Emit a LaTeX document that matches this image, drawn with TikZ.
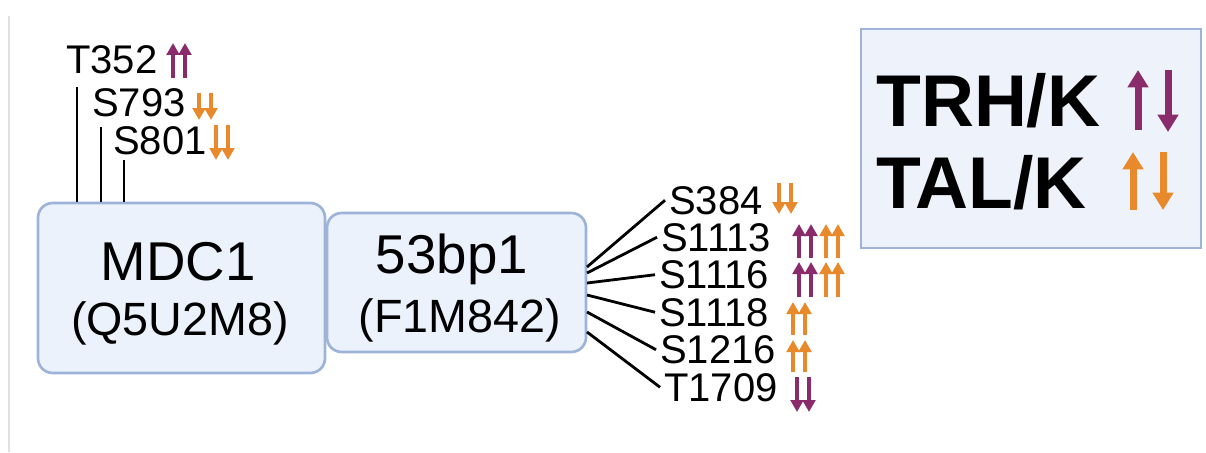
\documentclass[tikz,border=0pt]{standalone}
\usepackage{fontspec}
\setmainfont{Liberation Sans}
\usetikzlibrary{arrows.meta}
\definecolor{boxfill}{HTML}{EBF2FB}
\definecolor{boxline}{HTML}{9DB3D8}
\definecolor{legfill}{HTML}{EEF3FB}
\definecolor{purp}{HTML}{8A2C6C}
\definecolor{orng}{HTML}{E8892B}
\tikzset{pairarr/.style={line width=3.4pt, -{Triangle[width=9.5pt,length=9pt]}}}
\newcommand\arrpair[5]{% colour, centre x, y top, y bottom, up/down
  \ifx#5u
    \draw[#1, pairarr] ({#2-6},#4) -- ({#2-6},#3);
    \draw[#1, pairarr] ({#2+6},#4) -- ({#2+6},#3);
  \else
    \draw[#1, pairarr] ({#2-6},#3) -- ({#2-6},#4);
    \draw[#1, pairarr] ({#2+6},#3) -- ({#2+6},#4);
  \fi}
\begin{document}
\begin{tikzpicture}[x=0.75pt,y=-0.75pt,
  protbox/.style={draw=boxline, fill=boxfill, line width=2pt, rounded corners=11pt, inner sep=0pt},
  legbox/.style={draw=boxline, fill=legfill, line width=2pt, inner sep=0pt},
  site/.style={anchor=base west, inner xsep=3pt, inner ysep=0pt, font=\fontsize{30}{30}\selectfont},
  big/.style={anchor=base, inner sep=0pt, font=\fontsize{41}{41}\selectfont},
  sub/.style={anchor=base, inner sep=0pt, font=\fontsize{35}{35}\selectfont},
  legtxt/.style={anchor=base west, inner sep=0pt, font=\fontsize{55}{55}\selectfont\bfseries},
  conn/.style={black, line width=2.1pt}]
\useasboundingbox (0,0) rectangle (1206,453);
\draw[black!12, line width=0.8pt] (9,16) -- (9,452);

% protein boxes
\node[protbox, minimum width=215.25pt, minimum height=127.5pt] (mdc) at (181.5,288) {};
\node[protbox, minimum width=194.25pt, minimum height=104.25pt] (bp) at (456.5,282.5) {};
\node[big] (mdct) at (178,280) {MDC1};
\node[sub] (mdcs) at (180,335) {(Q5U2M8)};
\node[big] (bpt) at (452,273) {53bp1};
\node[sub] (bps) at (460,332) {(F1M842)};

% legend
\node[legbox, minimum width=255pt, minimum height=164.25pt] (leg) at (1031,138.5) {};
\node[legtxt] (trh) at (876,127) {TRH/K};
\node[legtxt] (tal) at (876,208) {TAL/K};
\draw[purp, line width=5.25pt, -{Triangle[width=15pt,length=13pt]}] (1138,130) -- (1138,70);
\draw[purp, line width=5.25pt, -{Triangle[width=15pt,length=13pt]}] (1168,70) -- (1168,132);
\draw[orng, line width=5.25pt, -{Triangle[width=15pt,length=13pt]}] (1133,210) -- (1133,152);
\draw[orng, line width=5.25pt, -{Triangle[width=15pt,length=13pt]}] (1163,152) -- (1163,210);

% MDC1 sites
\node[site] (t352) at (62,74) {T352};
\node[site] (s793) at (88,116) {S793};
\node[site] (s801) at (109,154) {S801};
\coordinate (c1) at (77,87);
\coordinate (c2) at (101,127);
\coordinate (c3) at (124,160);
\draw[conn] (mdc.north -| c1) -- (c1);
\draw[conn] (mdc.north -| c2) -- (c2);
\draw[conn] (mdc.north -| c3) -- (c3);
\arrpair{purp}{179}{43}{78}{u}
\arrpair{orng}{205}{93}{120}{d}
\arrpair{orng}{222}{125}{160}{d}

% 53bp1 sites
\node[site] (s384) at (665,214) {S384};
\node[site] (s1113) at (657,251) {S1113};
\node[site] (s1116) at (655,288.5) {S1116};
\node[site] (s1118) at (655,326) {S1118};
\node[site] (s1216) at (656,363.5) {S1216};
\node[site] (t1709) at (660,401) {T1709};
\coordinate (r1) at (587,267);
\coordinate (r2) at (587,273);
\coordinate (r3) at (587,283);
\coordinate (r4) at (587,295);
\coordinate (r5) at (587,312);
\coordinate (r6) at (587,332);
\draw[conn] (r1) -- (s384.west);
\draw[conn] (r2) -- (s1113.west);
\draw[conn] (r3) -- (s1116.west);
\draw[conn] (r4) -- (s1118.west);
\draw[conn] (r5) -- (s1216.west);
\draw[conn] (r6) -- (t1709.west);
\arrpair{orng}{785}{183}{214}{d}
\arrpair{purp}{805}{224}{258}{u}
\arrpair{orng}{832}{224}{258}{u}
\arrpair{purp}{805}{262}{297}{u}
\arrpair{orng}{832}{262}{297}{u}
\arrpair{orng}{799}{302}{335}{u}
\arrpair{orng}{799}{340}{372}{u}
\arrpair{purp}{803}{377}{412}{d}
\end{tikzpicture}
\end{document}
